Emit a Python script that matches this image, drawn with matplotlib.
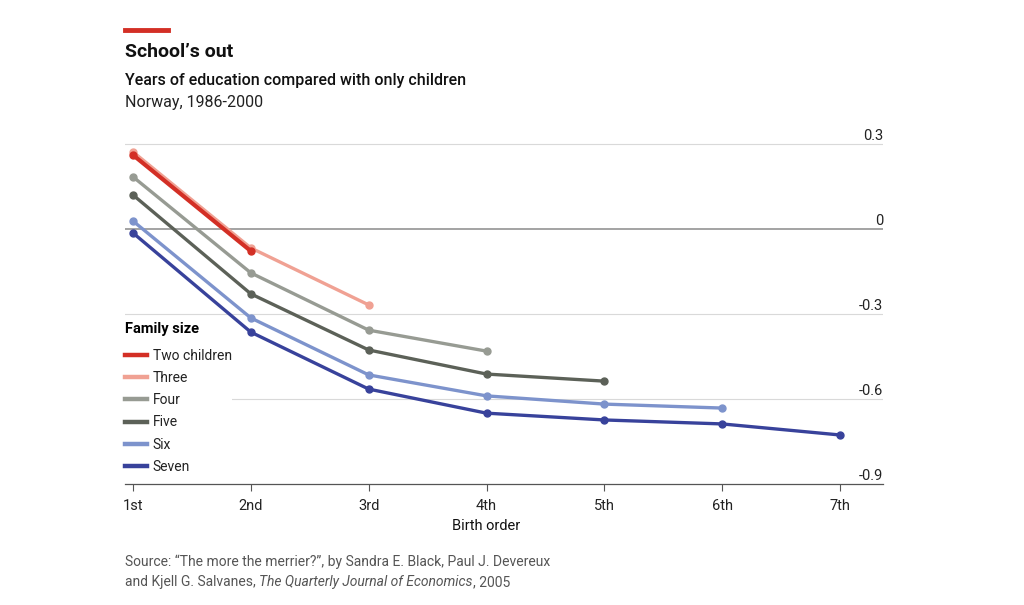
import matplotlib.pyplot as plt
from matplotlib.lines import Line2D

plt.rcParams['font.family'] = ['Roboto', 'DejaVu Sans']

# birth order positions and tick labels
birth_order = [1, 2, 3, 4, 5, 6, 7]
order_labels = ['1st', '2nd', '3rd', '4th', '5th', '6th', '7th']

# years of education vs only children, by family size
two_children = [0.261, -0.078]
three = [0.272, -0.067, -0.268]
four = [0.184, -0.155, -0.357, -0.431]
five = [0.120, -0.229, -0.427, -0.512, -0.537]
six = [0.028, -0.314, -0.515, -0.589, -0.618, -0.632]
seven = [-0.014, -0.364, -0.565, -0.650, -0.674, -0.688, -0.727]

series_names = ['Two children', 'Three', 'Four', 'Five', 'Six', 'Seven']
series_values = [two_children, three, four, five, six, seven]
series_colors = ['#d32f25', '#f0a193', '#979b93', '#5c6158', '#7d93cc', '#38429b']

y_ticks = [0.3, 0, -0.3, -0.6, -0.9]
y_tick_labels = ['0.3', '0', '-0.3', '-0.6', '-0.9']

fig = plt.figure(figsize=(10.24, 6.05), dpi=100)
ax = fig.add_axes([125 / 1024, 121 / 605, 758 / 1024, 345.7 / 605])

for ytk in y_ticks:
    if ytk == 0:
        ax.axhline(ytk, color='#8a8a8a', lw=1.1, zorder=1)
    elif ytk > -0.9:
        ax.axhline(ytk, color='#d9d9d9', lw=0.8, zorder=0)

handles = []
for i, (name, vals, col) in enumerate(zip(series_names, series_values, series_colors)):
    lw = 3.0 if i == 0 else 2.4
    ax.plot(birth_order[:len(vals)], vals, color=col, lw=lw, marker='o',
            markersize=5, solid_capstyle='round', zorder=10 - i)
    handles.append(Line2D([0], [0], color=col, lw=3.2))

ax.set_xlim(0.932, 7.365)
ax.set_ylim(-0.9, 0.32)
ax.set_xticks(birth_order)
ax.set_xticklabels(order_labels, fontsize=10.5, color='#222222')
ax.tick_params(axis='x', direction='out', length=5, width=0.8, color='#555555', pad=6)
ax.set_yticks([])
for s in ['top', 'right', 'left']:
    ax.spines[s].set_visible(False)
ax.spines['bottom'].set_color('#555555')
ax.spines['bottom'].set_linewidth(0.9)

for ytk, lab in zip(y_ticks, y_tick_labels):
    ax.text(1.0, ytk + 0.005, lab, transform=ax.get_yaxis_transform(),
            ha='right', va='bottom', fontsize=10.5, color='#222222')

ax.set_xlabel('Birth order', fontsize=10.5, color='#111111')
ax.xaxis.set_label_coords((4 - 0.932) / (7.365 - 0.932), -0.1)

leg = ax.legend(handles, series_names, loc='upper left',
                bbox_to_anchor=(125 / 1024, 1 - 322 / 605), bbox_transform=fig.transFigure,
                title='Family size', alignment='left', frameon=True, facecolor='white',
                edgecolor='none', framealpha=1, fontsize=10, handlelength=1.6,
                handletextpad=0.4, labelspacing=0.6, borderpad=0, borderaxespad=0,
                title_fontproperties={'weight': 'bold', 'size': 10.5})
leg._legend_box.sep = 9
for t in leg.get_texts():
    t.set_color('#222222')
leg.set_zorder(20)

# header
fig.add_artist(Line2D([125 / 1024, 168 / 1024], [1 - 30 / 605, 1 - 30 / 605],
                      color='#d32f25', lw=3.5))
fig.text(125 / 1024, 1 - 52 / 605, 'School\u2019s out', fontsize=14, weight='bold',
         va='center', ha='left', color='#111111')
fig.text(125 / 1024, 1 - 81 / 605, 'Years of education compared with only children',
         fontsize=11.5, weight='medium', va='center', ha='left', color='#111111')
fig.text(125 / 1024, 1 - 102 / 605, 'Norway, 1986-2000', fontsize=11.5,
         va='center', ha='left', color='#222222')

# source
src_col = '#555555'
fig.text(125 / 1024, 1 - 566 / 605,
         'Source: \u201cThe more the merrier?\u201d, by Sandra E. Black, Paul J. Devereux',
         fontsize=10, va='baseline', ha='left', color=src_col)
base_y = 1 - 586 / 605
t1 = fig.text(125 / 1024, base_y, 'and Kjell G. Salvanes, ', fontsize=10,
              va='baseline', ha='left', color=src_col)
t2 = fig.text(0, base_y, 'The Quarterly Journal of Economics', fontsize=10, style='italic',
              va='baseline', ha='left', color=src_col)
t3 = fig.text(0, base_y, ', 2005', fontsize=10, va='baseline', ha='left', color=src_col)

fig.canvas.draw()
r = fig.canvas.get_renderer()
inv = fig.transFigure.inverted()
t2.set_position((inv.transform((t1.get_window_extent(r).x1, 0))[0], base_y))
fig.canvas.draw()
t3.set_position((inv.transform((t2.get_window_extent(r).x1, 0))[0], base_y))

fig.savefig('out.png', dpi=100)
